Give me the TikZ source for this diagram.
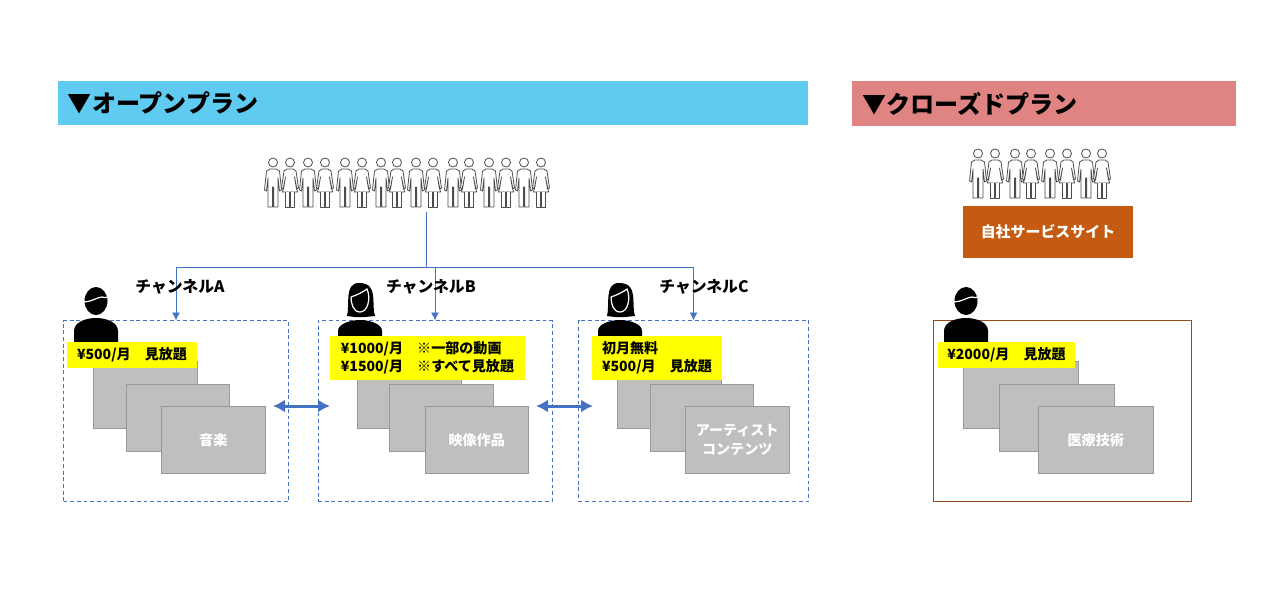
\documentclass[tikz,border=0pt]{standalone}
\usepackage{fontspec}
\setmainfont{Noto Sans CJK JP}
\usetikzlibrary{arrows.meta,positioning,calc}
\definecolor{hdropen}{RGB}{95,203,241}
\definecolor{hdrclosed}{RGB}{223,132,130}
\definecolor{siteorange}{RGB}{197,90,17}
\definecolor{linkblue}{RGB}{68,114,196}
\definecolor{cardgray}{RGB}{191,191,191}
\definecolor{boxbrown}{RGB}{150,75,30}
\definecolor{priceyellow}{RGB}{255,255,0}

\begin{document}
\begin{tikzpicture}[
  x=0.02cm, y=-0.02cm,
  font=\fontsize{8}{10.5}\selectfont\bfseries,
  sz/.style 2 args={minimum width=#1*0.02cm, minimum height=#2*0.02cm,
    inner sep=0pt, outer sep=0pt},
  hdr/.style={font=\fontsize{13.7}{16}\selectfont\bfseries, align=left,
    anchor=north west, inner xsep=0.2cm, inner ysep=0pt, outer sep=0pt},
  planbox/.style={draw=linkblue, dash pattern=on 2.2pt off 1.6pt, line width=0.45pt, anchor=north west},
  card/.style={draw=gray!80, line width=0.4pt, fill=cardgray, text=white,
    anchor=north west, align=center},
  price/.style={fill=priceyellow, align=left},
  chan/.style={font=\fontsize{9}{11}\selectfont\bfseries},
  feed/.style={draw=linkblue, line width=0.55pt},
  swap/.style={draw=linkblue, line width=1.7pt, {Latex[length=2.4mm,width=2.6mm]}-{Latex[length=2.4mm,width=2.6mm]}},
  fig/.style={draw=black!70, line width=0.45pt, fill=white, line join=round},
  manlet/.pic={
    \draw[fig] (-3,11) -- (-6.5,13) -- (-8.5,32) -- (-6.5,33) -- (-5,20) -- (-5,49)
      -- (-0.6,49) -- (-0.6,29) -- (0.6,29) -- (0.6,49) -- (5,49) -- (5,20)
      -- (6.5,33) -- (8.5,32) -- (6.5,13) -- (3,11) -- cycle;
    \draw[fig] (0,4.5) circle (4.5);
  },
  womanlet/.pic={
    \draw[fig] (-3,11) -- (-6,13) -- (-8.5,30) -- (-6.5,31) -- (-4.5,19) -- (-7.5,34)
      -- (7.5,34) -- (4.5,19) -- (6.5,31) -- (8.5,30) -- (6,13) -- (3,11) -- cycle;
    \draw[fig] (-4.5,34) -- (-4.5,49) -- (-0.8,49) -- (-0.8,34);
    \draw[fig] (0.8,34) -- (0.8,49) -- (4.5,49) -- (4.5,34);
    \draw[fig] (0,4.5) circle (4.5);
  },
  manbust/.pic={
    \fill[black] (0,14) ellipse (11.5 and 14);
    \draw[white, line width=0.7pt] (-12,15) .. controls (-5,15) and (2,10) .. (6,10)
      .. controls (8,10) and (10,12) .. (12,9);
    \fill[black] (-22,55) -- (-22,44) .. controls (-22,35) and (-10,31) .. (0,31)
      .. controls (10,31) and (22,35) .. (22,44) -- (22,55) -- cycle;
  },
  womanbust/.pic={
    \fill[black] (-13,33) .. controls (-10,22) and (-16,0) .. (-1,0)
      .. controls (9,0) and (12,5) .. (13,12) .. controls (14,20) and (13,28) .. (15,33)
      -- (5,34) -- (-5,34) -- cycle;
    \draw[white, line width=0.7pt] (-9,14) .. controls (-3,12) and (3,9) .. (7,6)
      .. controls (11,15) and (8,29) .. (0,29) .. controls (-7,29) and (-9,20) .. (-9,14);
    \fill[black] (-22,65) -- (-22,48) .. controls (-22,41) and (-10,37) .. (0,37)
      .. controls (10,37) and (22,41) .. (22,48) -- (22,65) -- cycle;
  },
]
\useasboundingbox (0,0) rectangle (1280,605);
% headers
\node[hdr, fill=hdropen, text width=14.6cm, minimum height=0.88cm] (hdrO) at (58,81) {▼オープンプラン};
\node[hdr, fill=hdrclosed, text width=7.28cm, minimum height=0.9cm] (hdrC) at (852,81) {▼クローズドプラン};
% crowds
\foreach \x/\s in {273/manlet, 290/womanlet, 308/manlet, 325/womanlet, 345/manlet, 362/womanlet,
    381/manlet, 397/womanlet, 416/manlet, 433/womanlet, 453/manlet, 469/womanlet,
    489/manlet, 506/womanlet, 524/manlet, 541/womanlet} {
  \pic at (\x,158) {\s};
}
\foreach \x/\s in {978/manlet, 995/womanlet, 1015/manlet, 1031/womanlet,
    1050/manlet, 1067/womanlet, 1086/manlet, 1102/womanlet} {
  \pic at (\x,149) {\s};
}
\node[sz={170}{52}, fill=siteorange, text=white, font=\fontsize{8.5}{10}\selectfont\bfseries, anchor=north west] (site) at (963,206) {自社サービスサイト};
% plan boxes
\node[planbox, sz={225}{181}] (boxA) at (63.5,320.5) {};
\node[planbox, sz={234}{181}] (boxB) at (318,320.5) {};
\node[planbox, sz={230}{181}] (boxC) at (578.5,320.5) {};
\node[sz={257.5}{181}, draw=boxbrown, line width=0.45pt, anchor=north west] (boxD) at (933.5,320.5) {};
% connectors
\coordinate (drop) at (426,212);
\coordinate (hub) at (426,267);
\draw[feed] (drop) -- (hub);
\draw[feed, -{Latex[length=1.6mm,width=1.6mm]}] (hub) -| (boxA.north);
\draw[feed, -{Latex[length=1.6mm,width=1.6mm]}] (hub) -| (boxB.north);
\draw[feed, -{Latex[length=1.6mm,width=1.6mm]}] (hub) -| (boxC.north);
\node[chan] (chanA) at (180,287) {チャンネルA};
\node[chan] (chanB) at (431,287) {チャンネルB};
\node[chan] (chanC) at (704,287) {チャンネルC};
% presenters
\pic at (96,287) {manbust};
\pic at (360,283) {womanbust};
\pic at (620,283) {womanbust};
\pic at (966,287) {manbust};
% cards
\node[card, sz={104.5}{67}] (a1) at (93,361.5) {};
\node[card, sz={103.5}{67.5}] (a2) at (126,384) {};
\node[card, sz={104.5}{67.5}] (a3) at (161,406) {音楽};
\node[card, sz={104.5}{67}] (b1) at (357,361.5) {};
\node[card, sz={104.5}{67.5}] (b2) at (389,384) {};
\node[card, sz={103.5}{67.5}] (b3) at (425,406) {映像作品};
\node[card, sz={104.5}{67}] (c1) at (617,361.5) {};
\node[card, sz={103.5}{67.5}] (c2) at (650,384) {};
\node[card, sz={104.5}{67.5}] (c3) at (685,406) {アーティスト\\コンテンツ};
\node[card, sz={115.5}{67}] (d1) at (963,361.5) {};
\node[card, sz={115.5}{67.5}] (d2) at (999,384) {};
\node[card, sz={115.5}{67.5}] (d3) at (1038,406) {医療技術};
% prices
\node[price, sz={130}{26}] (priceA) at (132,355) {¥500/月　見放題};
\node[price, sz={195}{44}] (priceB) at (427.5,358) {¥1000/月　※一部の動画\\¥1500/月　※すべて見放題};
\node[price, sz={130}{44}] (priceC) at (657,358) {初月無料\\¥500/月　見放題};
\node[price, sz={137}{26}] (priceD) at (1006.5,355) {¥2000/月　見放題};
% swaps
\coordinate (swapAl) at (273,406);
\coordinate (swapAr) at (330,406);
\coordinate (swapBl) at (536,406);
\coordinate (swapBr) at (593,406);
\draw[swap] (swapAl) -- (swapAr);
\draw[swap] (swapBl) -- (swapBr);
\end{tikzpicture}
\end{document}
